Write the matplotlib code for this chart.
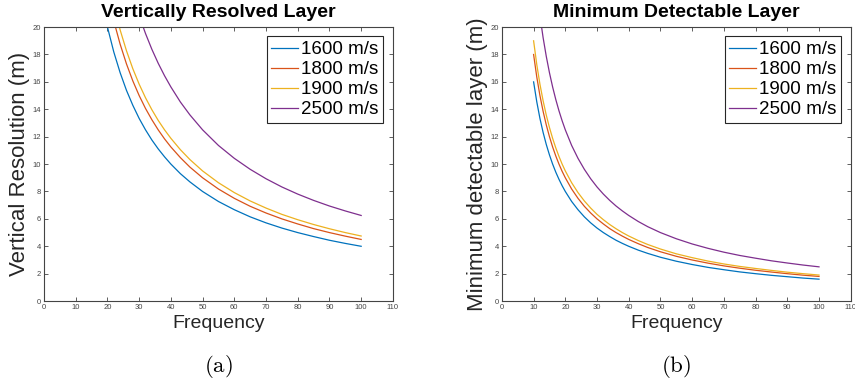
import matplotlib
matplotlib.use('Agg')
import matplotlib.pyplot as plt

plt.rcParams['font.family'] = ['Liberation Sans', 'DejaVu Sans']
plt.rcParams['mathtext.fontset'] = 'cm'

# data
labels = ['1600 m/s', '1800 m/s', '1900 m/s', '2500 m/s']
colors = ['#0072BD', '#D95319', '#EDB120', '#7E2F8E']

freq_a = [18, 19, 20, 22, 24, 26, 28, 30, 32, 34, 36, 38, 40, 43, 46, 50,
          55, 60, 65, 70, 75, 80, 85, 90, 95, 100]
res_1600 = [22.22, 21.05, 20, 18.18, 16.67, 15.38, 14.29, 13.33, 12.5, 11.76,
            11.11, 10.53, 10, 9.30, 8.70, 8, 7.27, 6.67, 6.15, 5.71, 5.33, 5,
            4.71, 4.44, 4.21, 4]
res_1800 = [25, 23.68, 22.5, 20.45, 18.75, 17.31, 16.07, 15, 14.06, 13.24,
            12.5, 11.84, 11.25, 10.47, 9.78, 9, 8.18, 7.5, 6.92, 6.43, 6, 5.63,
            5.29, 5, 4.74, 4.5]
res_1900 = [26.39, 25, 23.75, 21.59, 19.79, 18.27, 16.96, 15.83, 14.84, 13.97,
            13.19, 12.5, 11.88, 11.05, 10.33, 9.5, 8.64, 7.92, 7.31, 6.79, 6.33,
            5.94, 5.59, 5.28, 5, 4.75]
res_2500 = [34.72, 32.89, 31.25, 28.41, 26.04, 24.04, 22.32, 20.83, 19.53,
            18.38, 17.36, 16.45, 15.63, 14.53, 13.59, 12.5, 11.36, 10.42, 9.62,
            8.93, 8.33, 7.81, 7.35, 6.94, 6.58, 6.25]

freq_b = [10, 11, 12, 13, 14, 15, 16, 17, 18, 19, 20, 22, 24, 26, 28, 30, 32,
          34, 36, 38, 40, 43, 46, 50, 55, 60, 65, 70, 75, 80, 85, 90, 95, 100]
det_1600 = [16, 14.55, 13.33, 12.31, 11.43, 10.67, 10, 9.41, 8.89, 8.42, 8,
            7.27, 6.67, 6.15, 5.71, 5.33, 5, 4.71, 4.44, 4.21, 4, 3.72, 3.48,
            3.2, 2.91, 2.67, 2.46, 2.29, 2.13, 2, 1.88, 1.78, 1.68, 1.6]
det_1800 = [18, 16.36, 15, 13.85, 12.86, 12, 11.25, 10.59, 10, 9.47, 9, 8.18,
            7.5, 6.92, 6.43, 6, 5.63, 5.29, 5, 4.74, 4.5, 4.19, 3.91, 3.6, 3.27,
            3, 2.77, 2.57, 2.4, 2.25, 2.12, 2, 1.89, 1.8]
det_1900 = [19, 17.27, 15.83, 14.62, 13.57, 12.67, 11.88, 11.18, 10.56, 10,
            9.5, 8.64, 7.92, 7.31, 6.79, 6.33, 5.94, 5.59, 5.28, 5, 4.75, 4.42,
            4.13, 3.8, 3.45, 3.17, 2.92, 2.71, 2.53, 2.38, 2.24, 2.11, 2, 1.9]
det_2500 = [25, 22.73, 20.83, 19.23, 17.86, 16.67, 15.63, 14.71, 13.89, 13.16,
            12.5, 11.36, 10.42, 9.62, 8.93, 8.33, 7.81, 7.35, 6.94, 6.58, 6.25,
            5.81, 5.43, 5, 4.55, 4.17, 3.85, 3.57, 3.33, 3.13, 2.94, 2.78, 2.63,
            2.5]

fig = plt.figure(figsize=(8.55, 3.87), dpi=100)
ax1 = fig.add_axes([0.0515, 0.222, 0.408, 0.708])
ax2 = fig.add_axes([0.587, 0.222, 0.408, 0.708])

panels = [
    (ax1, freq_a, [res_1600, res_1800, res_1900, res_2500],
     'Vertically Resolved Layer', 'Vertical Resolution (m)', '(a)'),
    (ax2, freq_b, [det_1600, det_1800, det_1900, det_2500],
     'Minimum Detectable Layer', 'Minimum detectable layer (m)', '(b)'),
]

for ax, f, series, title, ylab, cap in panels:
    for ys, c, lab in zip(series, colors, labels):
        ax.plot(f, ys, color=c, lw=0.9, label=lab)
    ax.set_xlim(0, 110)
    ax.set_ylim(0, 20)
    ax.set_xticks(range(0, 111, 10))
    ax.set_yticks(range(0, 21, 2))
    ax.tick_params(direction='in', length=3, width=0.6, labelsize=5.5,
                   colors='#444444', top=True, right=True, pad=2)
    for s in ax.spines.values():
        s.set_color('#444444')
        s.set_linewidth(0.8)
    ax.set_title(title, fontsize=14, fontweight='bold', pad=7)
    ax.set_xlabel('Frequency', fontsize=14, color='#262626', labelpad=3)
    ax.set_ylabel(ylab, fontsize=16, color='#262626', labelpad=2)
    leg = ax.legend(loc='upper right', fontsize=13.5, fancybox=False,
                    edgecolor='#262626', framealpha=1, borderpad=0.25,
                    labelspacing=0.15, handlelength=1.4, handletextpad=0.2,
                    borderaxespad=0.5)
    leg.get_frame().set_linewidth(0.8)
    ax.text(0.5, -0.24, r'$\mathrm{' + cap + '}$', transform=ax.transAxes,
            ha='center', va='center', fontsize=16.5)

fig.savefig('out.png', dpi=100)
